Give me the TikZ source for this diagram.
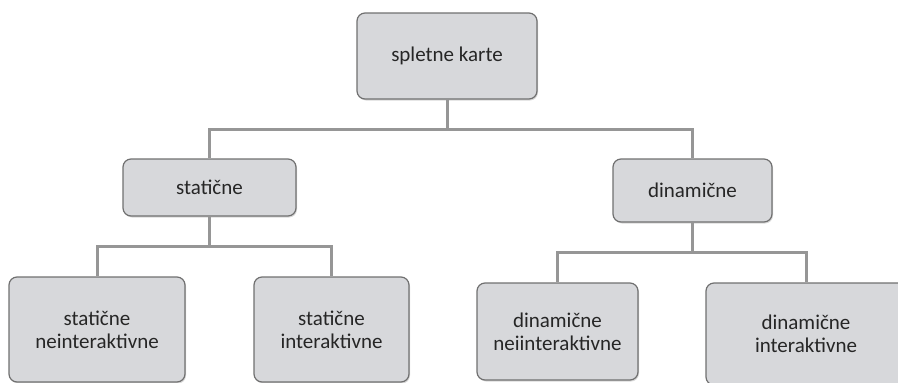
\documentclass[tikz,border=0pt]{standalone}
\usepackage{fontspec}
\setmainfont{Carlito}
\usepackage{xcolor}
\usepackage{tikz}
\usetikzlibrary{calc,shadows}
\definecolor{boxgray}{RGB}{215,216,219}
\definecolor{edgegray}{RGB}{112,112,112}
\definecolor{linkgray}{RGB}{150,150,150}
\definecolor{txtgray}{RGB}{38,38,38}

\begin{document}
\begin{tikzpicture}[x=1pt, y=-1pt,
    every node/.style={font=\fontsize{21}{23}\selectfont, text=txtgray},
    mapbox/.style={draw=edgegray, line width=1.2pt, fill=boxgray, rounded corners=8pt,
      align=center, inner sep=0pt,
      drop shadow={shadow xshift=1pt, shadow yshift=-1.5pt, opacity=.3}},
    link/.style={draw=linkgray, line width=3pt}]
    \clip (0,0) rectangle (898,383);
    \node[mapbox, minimum width=180pt, minimum height=86pt] (karte) at (447,56) {spletne karte};
    \node[mapbox, minimum width=173pt, minimum height=57pt] (stat) at (209.5,187.5) {statične};
    \node[mapbox, minimum width=159pt, minimum height=63pt] (din) at (692.5,190.5) {dinamične};
    \node[mapbox, minimum width=176pt, minimum height=105pt] (statne) at (97,329.5) {statične\\neinteraktivne};
    \node[mapbox, minimum width=155pt, minimum height=105pt] (statin) at (331.5,329.5) {statične\\interaktivne};
    \node[mapbox, minimum width=161pt, minimum height=97pt] (dinne) at (557.5,331.5) {dinamične\\neiinteraktivne};
    \node[mapbox, minimum width=200pt, minimum height=102pt] (dinin) at (806,334) {dinamične\\interaktivne};
    \foreach \a/\b in {karte/stat,karte/din,stat/statne,stat/statin,din/dinne,din/dinin}{
      \draw[link] (\a.south) |- ($(\a.south)!.5!(\b.north)$) -| (\b.north);
    }
  \end{tikzpicture}
\end{document}
